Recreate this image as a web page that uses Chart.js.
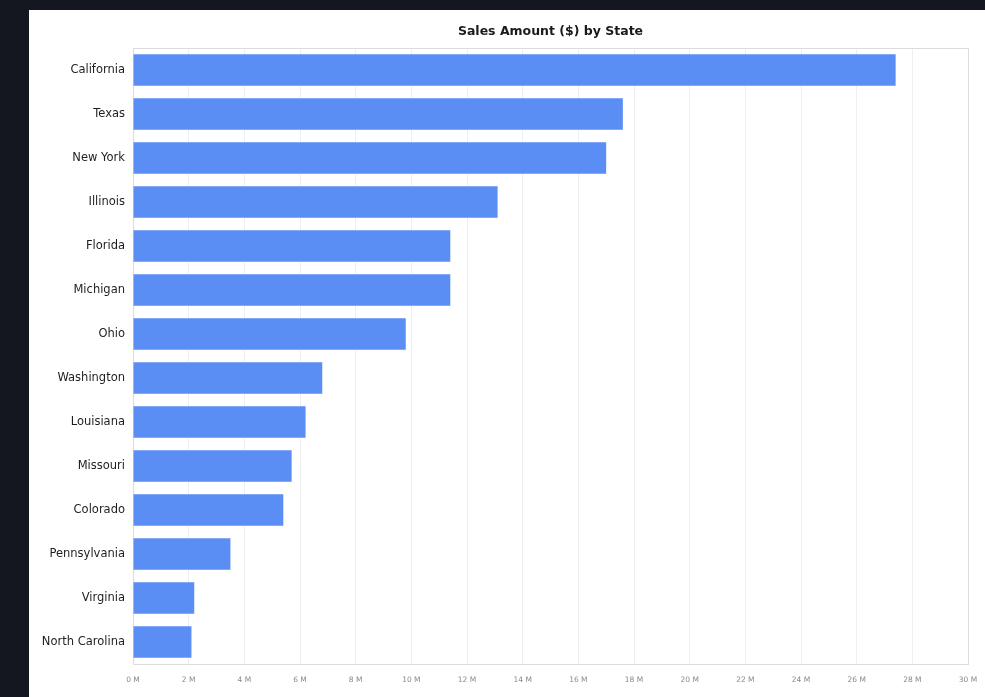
<!DOCTYPE html>
<html>
<head>
<meta charset="utf-8">
<script src="https://cdn.jsdelivr.net/npm/chart.js@4/dist/chart.umd.min.js"></script>
<style>
  html, body { margin: 0; padding: 0; background: #14171f; }
  #panel { position: absolute; left: 29px; top: 10px; width: 956px; height: 687px; background: #fff; }
  #panel canvas { display: block; }
</style>
</head>
<body>
<div id="panel"><canvas id="salesChart"></canvas></div>
<script>
// ── Data ─────────────────────────────────────────────────────────────────
const states = ['California', 'Texas', 'New York', 'Illinois', 'Florida', 'Michigan', 'Ohio',
    'Washington', 'Louisiana', 'Missouri', 'Colorado', 'Pennsylvania', 'Virginia', 'North Carolina'];
const salesMillions = [27.4, 17.6, 17.0, 13.1, 11.4, 11.4, 9.8, 6.8, 6.2, 5.7, 5.4, 3.5, 2.2, 2.1];
const xTickStep = 2;
const xMax = 30;
const chartTitle = 'Sales Amount ($) by State';

// ── Plot frame + title drawn over the plot area ─────────────────────────
const frameAndTitle = {
    id: 'frameAndTitle',
    beforeDatasetsDraw: (chart) => {
        const { ctx, chartArea: a } = chart;
        ctx.save();
        ctx.strokeStyle = '#dcdcdc';
        ctx.lineWidth = 1;
        ctx.strokeRect(a.left + 0.5, a.top + 0.5, a.right - a.left, a.bottom - a.top);
        ctx.restore();
    },
    afterDraw: (chart) => {
        const { ctx, chartArea: a } = chart;
        ctx.save();
        ctx.font = 'bold 12.5px "DejaVu Sans", sans-serif';
        ctx.fillStyle = '#1a1a1a';
        ctx.textAlign = 'center';
        ctx.textBaseline = 'middle';
        ctx.fillText(chartTitle, (a.left + a.right) / 2, 22);
        ctx.restore();
    }
};

new Chart(document.getElementById('salesChart'), {
    type: 'bar',
    data: {
        labels: states,
        datasets: [{
            label: 'Sales',
            data: salesMillions,
            backgroundColor: '#5b8ef5',
            borderWidth: 0,
            categoryPercentage: 0.72,
            barPercentage: 1
        }]
    },
    options: {
        indexAxis: 'y',
        responsive: true,
        maintainAspectRatio: false,
        animation: false,
        layout: { padding: { top: 38, right: 17, left: 0, bottom: 0 } },
        plugins: {
            legend: { display: false },
            title: { display: false },
            tooltip: { enabled: false }
        },
        scales: {
            x: {
                min: 0,
                max: xMax,
                afterFit: (s) => { s.height = 33; s.paddingLeft = 0; s.paddingRight = 0; },
                grid: {
                    drawTicks: false,
                    color: ctx => ctx.tick && ctx.tick.value === xMax ? '#cfcfcf' : '#efefef'
                },
                border: { color: '#c8c8c8' },
                ticks: {
                    stepSize: xTickStep,
                    padding: 12,
                    color: '#8a8a8a',
                    font: { family: '"DejaVu Sans", sans-serif', size: 7.5 },
                    callback: v => v + ' M'
                }
            },
            y: {
                afterFit: (s) => { s.width = 104; },
                grid: { display: false, drawTicks: false },
                border: { color: '#dcdcdc' },
                ticks: {
                    padding: 8,
                    color: '#1e1e1e',
                    font: { family: '"DejaVu Sans", sans-serif', size: 11.5 }
                }
            }
        }
    },
    plugins: [frameAndTitle]
});
</script>
</body>
</html>
